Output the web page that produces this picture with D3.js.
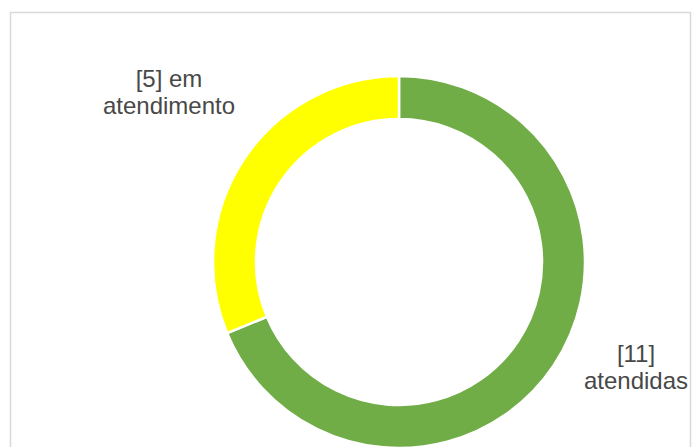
<!DOCTYPE html>
<html>
<head>
<meta charset="utf-8">
<script src="https://cdn.jsdelivr.net/npm/d3@7"></script>
<style>
  body { margin: 0; background: #fff; }
  svg { display: block; font-family: Arial, "Liberation Sans", sans-serif; }
</style>
</head>
<body>
<svg id="chart" width="700" height="447"></svg>
<script>
// chart data
const categories = ["atendidas", "em atendimento"];
const values = [11, 5];
const labelLines = [["[11]", "atendidas"], ["[5] em", "atendimento"]];
const colors = ["#70ad47", "#ffff00"];

const svg = d3.select("#chart");

// outer chart border
svg.append("rect")
    .attr("x", 10.5)
    .attr("y", 12.5)
    .attr("width", 680)
    .attr("height", 450)
    .attr("fill", "none")
    .attr("stroke", "#d9d9d9")
    .attr("stroke-width", 1.5);

const cx = 399, cy = 262;
const outerR = 186, innerR = 143;

const pie = d3.pie().sort(null).value(d => d);
const arcs = pie(values);

const arc = d3.arc().innerRadius(innerR).outerRadius(outerR);

const g = svg.append("g").attr("transform", `translate(${cx},${cy})`);

g.selectAll("path")
    .data(arcs)
    .join("path")
    .attr("d", arc)
    .attr("fill", (d, i) => colors[i])
    .attr("stroke", "#fff")
    .attr("stroke-width", 2.5);

// label positions (relative to centre)
const labelPos = [[237, 100], [-230, -175]];

const labels = svg.append("g")
    .attr("font-size", 24)
    .attr("fill", "#484848")
    .attr("text-anchor", "middle");

labels.selectAll("text")
    .data(labelLines)
    .join("text")
    .attr("x", (d, i) => cx + labelPos[i][0])
    .attr("y", (d, i) => cy + labelPos[i][1])
    .selectAll("tspan")
    .data(d => d)
    .join("tspan")
    .attr("x", function () { return this.parentNode.getAttribute("x"); })
    .attr("dy", (d, i) => i === 0 ? 0 : 27)
    .text(d => d);
</script>
</body>
</html>
